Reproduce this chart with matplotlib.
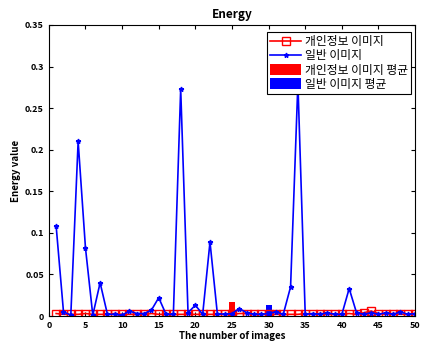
import matplotlib
matplotlib.use('Agg')
import matplotlib.pyplot as plt
import numpy as np

plt.rcParams['font.family'] = ['Noto Sans CJK KR', 'DejaVu Sans']

idx = np.arange(1, 51)
normal = [0.108, 0.005, 0.001, 0.210, 0.082, 0.001, 0.040, 0.002, 0.002, 0.001,
          0.006, 0.003, 0.003, 0.007, 0.022, 0.002, 0.002, 0.273, 0.004, 0.013,
          0.002, 0.089, 0.003, 0.002, 0.003, 0.009, 0.004, 0.002, 0.002, 0.003,
          0.005, 0.002, 0.035, 0.280, 0.002, 0.003, 0.002, 0.004, 0.002, 0.002,
          0.033, 0.004, 0.002, 0.004, 0.002, 0.004, 0.002, 0.005, 0.002, 0.003]
private = [0.003, 0.002, 0.002, 0.002, 0.003, 0.002, 0.002, 0.002, 0.003, 0.002,
           0.002, 0.002, 0.002, 0.003, 0.002, 0.002, 0.002, 0.002, 0.002, 0.002,
           0.002, 0.002, 0.002, 0.002, 0.002, 0.003, 0.003, 0.002, 0.002, 0.002,
           0.002, 0.002, 0.002, 0.002, 0.003, 0.002, 0.003, 0.002, 0.002, 0.002,
           0.003, 0.002, 0.004, 0.006, 0.003, 0.002, 0.003, 0.002, 0.002, 0.003]
bar_x = [25, 30]
bar_h = [0.017, 0.013]
labels = ['개인정보 이미지', '일반 이미지', '개인정보 이미지 평균', '일반 이미지 평균']

fig = plt.figure(figsize=(4.21, 3.42), dpi=100)
ax = fig.add_axes([0.116, 0.076, 0.87, 0.851])

ax.plot(idx, private, color='r', marker='s', markersize=5.5, markerfacecolor='none',
        markeredgewidth=1, linewidth=1.2, label=labels[0])
ax.plot(idx, normal, color='b', marker='*', markersize=3.5, linewidth=1.2, label=labels[1])
ax.bar(bar_x[0], bar_h[0], width=0.8, color='r', label=labels[2])
ax.bar(bar_x[1], bar_h[1], width=0.8, color='b', label=labels[3])

ax.set_xlim(0, 50)
ax.set_ylim(0, 0.35)
ax.set_xticks(np.arange(0, 51, 5))
ax.set_yticks(np.arange(0, 0.36, 0.05))
ax.set_yticklabels(['0', '0.05', '0.1', '0.15', '0.2', '0.25', '0.3', '0.35'])
ax.tick_params(direction='in', top=True, right=True, labelsize=6.5, length=3)
for lab in ax.get_xticklabels() + ax.get_yticklabels():
    lab.set_fontweight('bold')

ax.set_title('Energy', fontsize=8.5, fontweight='bold', pad=5)
ax.set_xlabel('The number of images', fontsize=7, fontweight='bold', labelpad=1)
ax.set_ylabel('Energy value', fontsize=7, fontweight='bold', labelpad=3)

leg = ax.legend(loc='upper right', bbox_to_anchor=(0.988, 0.975), fontsize=8.5,
                fancybox=False, framealpha=1, edgecolor='k', borderpad=0.25,
                labelspacing=0.1, handlelength=2.6, handleheight=1.0,
                handletextpad=0.3, borderaxespad=0)
leg.get_frame().set_linewidth(0.8)

fig.savefig('out.png', dpi=100)
